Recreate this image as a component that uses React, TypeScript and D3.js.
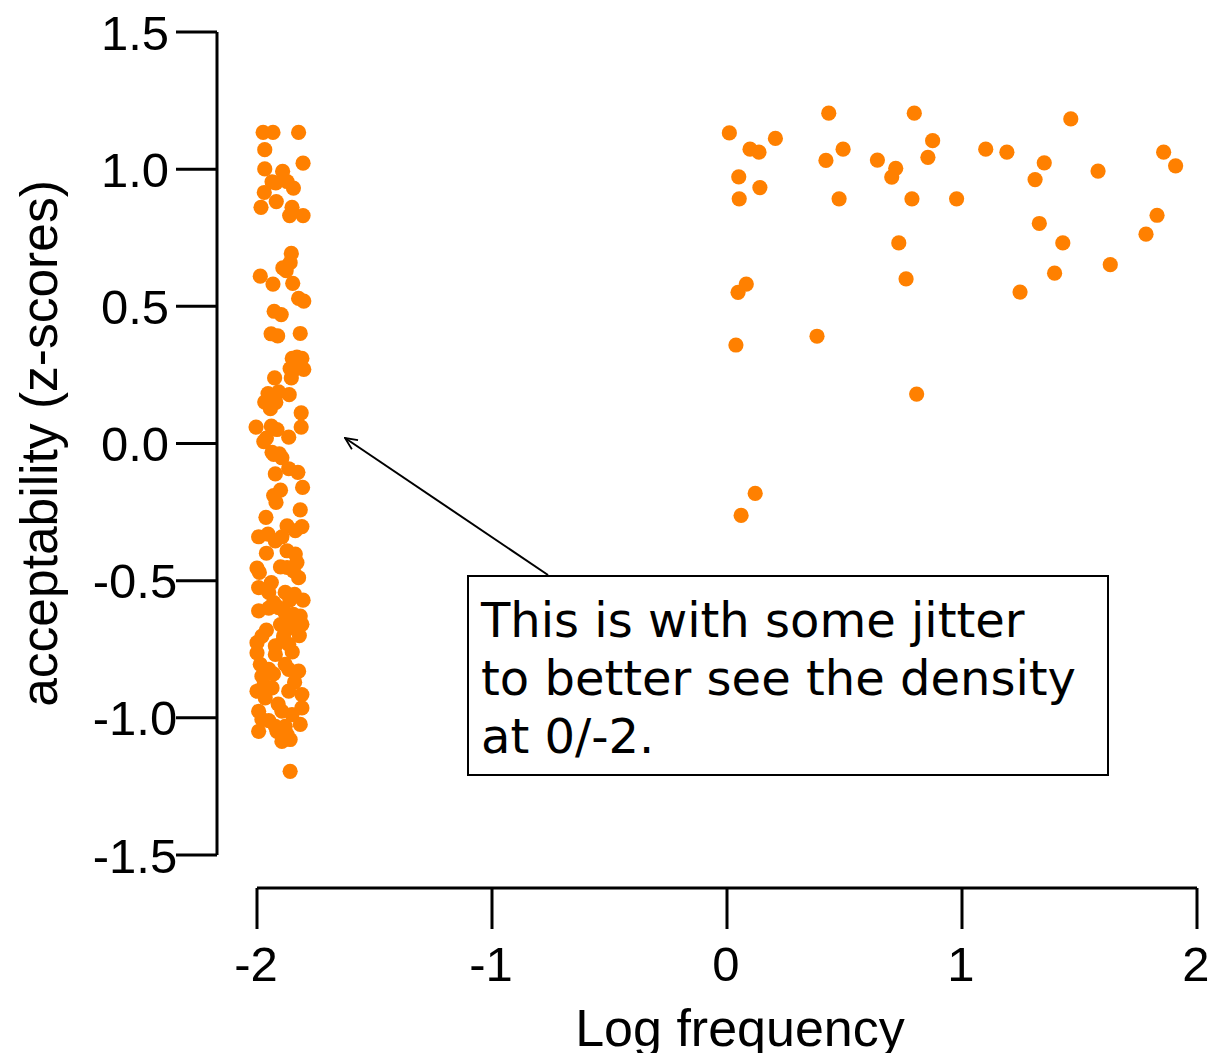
import React from "react";
import * as d3 from "d3";

// Low-frequency words (log frequency -2, jittered)
const lowX = [
  -1.974, -1.932, -1.823, -1.967, -1.804, -1.967, -1.891, -1.936, -1.872, -1.845,
  -1.969, -1.918, -1.983, -1.851, -1.861, -1.804, -1.854, -1.859, -1.876, -1.986,
  -1.932, -1.848, -1.823, -1.801, -1.927, -1.897, -1.912, -1.816, -1.830, -1.809,
  -1.801, -1.859, -1.854, -1.925, -1.953, -1.908, -1.863, -1.967, -1.943, -1.812,
  -1.812, -2.004, -1.939, -1.915, -1.971, -1.865, -1.936, -1.905, -1.929, -1.894,
  -1.922, -1.865, -1.826, -1.806, -1.929, -1.919, -1.816, -1.962, -1.872, -1.809,
  -1.837, -1.993, -1.953, -1.922, -1.894, -1.872, -1.837, -1.830, -2.000, -1.872,
  -1.845, -1.823, -1.993, -1.939, -1.950, -1.880, -1.804, -1.929, -1.908, -1.993,
  -1.880, -1.845, -1.816, -1.872, -1.809, -1.851, -1.979, -1.887, -2.000, -1.922,
  -1.865, -2.000, -1.922, -1.986, -1.880, -1.950, -1.823, -1.865, -1.979, -2.000,
  -1.936, -1.865, -1.809, -1.965, -1.993, -1.894, -1.809, -1.851, -1.979, -1.922,
  -1.816, -1.993, -1.880, -1.915, -1.872, -1.894, -1.859, -1.859,
  -1.950, -1.900, -1.960, -1.850, -1.970, -1.840, -1.910, -1.840, -1.900, -1.960,
  -1.990, -1.860, -1.890, -1.930, -1.820, -1.950, -1.960, -1.920, -1.850, -1.900,
  -1.840, -1.940, -1.920, -1.890,
];
const lowY = [
  1.134, 1.134, 1.134, 1.071, 1.022, 1.001, 0.992, 0.954, 0.955, 0.931,
  0.915, 0.882, 0.861, 0.861, 0.831, 0.831, 0.693, 0.659, 0.630, 0.610,
  0.581, 0.584, 0.529, 0.519, 0.482, 0.470, 0.392, 0.401, 0.315, 0.310,
  0.270, 0.273, 0.239, 0.239, 0.182, 0.188, 0.178, 0.151, 0.127, 0.112,
  0.060, 0.060, 0.063, 0.051, 0.007, 0.023, -0.032, -0.038, -0.040, -0.052,
  -0.111, -0.092, -0.105, -0.160, -0.190, -0.215, -0.242, -0.269, -0.300, -0.303,
  -0.318, -0.340, -0.330, -0.355, -0.340, -0.391, -0.403, -0.434, -0.454, -0.452,
  -0.464, -0.489, -0.525, -0.507, -0.543, -0.543, -0.571, -0.580, -0.598, -0.610,
  -0.617, -0.623, -0.629, -0.635, -0.659, -0.671, -0.702, -0.702, -0.726, -0.738,
  -0.732, -0.763, -0.769, -0.805, -0.805, -0.823, -0.830, -0.823, -0.848, -0.903,
  -0.891, -0.903, -0.915, -0.927, -0.976, -0.976, -0.964, -0.988, -1.006, -1.031,
  -1.024, -1.049, -1.031, -1.049, -1.061, -1.086, -1.079, -1.195,
  -0.600, -0.660, -0.680, -0.760, -0.880, -0.870, -0.950, -0.550, -0.450, -0.400,
  -0.470, -0.570, -0.720, -0.840, -0.700, -1.010, 0.020, 0.150, 0.310, -0.170,
  0.270, 0.400, 0.950, 0.640,
];

// Higher-frequency words
const highX = [
  0.010, 0.098, 0.136, 0.206, 0.050, 0.140, 0.052, 0.433, 0.494, 0.421,
  0.477, 0.640, 0.718, 0.701, 0.797, 0.875, 0.855, 0.787, 0.977, 1.463,
  1.101, 1.191, 1.350, 1.311, 1.579, 1.858, 1.909, 1.329, 1.429, 1.830,
  1.783, 1.631, 1.394, 1.247, 0.731, 0.762, 0.082, 0.047, 0.038, 0.383,
  0.807, 0.120, 0.060,
];
const highY = [
  1.132, 1.073, 1.062, 1.112, 0.972, 0.933, 0.892, 1.204, 1.073, 1.032,
  0.892, 1.033, 1.003, 0.971, 1.204, 1.104, 1.043, 0.892, 0.892, 1.183,
  1.073, 1.062, 1.023, 0.962, 0.993, 1.062, 1.012, 0.802, 0.731, 0.832,
  0.763, 0.652, 0.621, 0.552, 0.731, 0.600, 0.581, 0.551, 0.359, 0.391,
  0.180, -0.182, -0.262,
];

const yTicks = [1.5, 1.0, 0.5, 0.0, -0.5, -1.0, -1.5];
const xTicks = [-2, -1, 0, 1, 2];
const annotationLines = [
  "This is with some jitter",
  "to better see the density",
  "at 0/-2.",
];

const W = 1215;
const H = 1053;
const ORANGE = "#ff8000";
const AXIS_FONT = "Liberation Sans, Arial, sans-serif";

export default function App() {
  const x = d3.scaleLinear().domain([-2, 2]).range([257, 1197]);
  const y = d3.scaleLinear().domain([-1.5, 1.5]).range([855, 32]);
  const axisX = 217;
  const axisY = 888;

  const points = [
    ...lowX.map((v, i) => ({ x: v, y: lowY[i] })),
    ...highX.map((v, i) => ({ x: v, y: highY[i] })),
  ];

  return (
    <div style={{ position: "absolute", left: 0, top: 0 }}>
      <svg width={W} height={H} style={{ display: "block", background: "#fff" }}>
        <defs>
          <marker
            id="arrowOpen"
            viewBox="0 0 14 14"
            refX="13"
            refY="7"
            markerWidth="14"
            markerHeight="14"
            markerUnits="userSpaceOnUse"
            orient="auto"
          >
            <path d="M1,1.5 L13,7 L1,12.5" fill="none" stroke="#000" strokeWidth={1.8} />
          </marker>
        </defs>

        {/* Y axis */}
        <line x1={axisX} x2={axisX} y1={y(1.5)} y2={y(-1.5)} stroke="#000" strokeWidth={3} />
        {yTicks.map((t) => (
          <g key={"yt" + t}>
            <line x1={176} x2={axisX} y1={y(t)} y2={y(t)} stroke="#000" strokeWidth={3} />
            <text
              x={135}
              y={y(t)}
              dy="0.36em"
              textAnchor="middle"
              fontFamily={AXIS_FONT}
              fontSize={49}
              fill="#000"
            >
              {t.toFixed(1)}
            </text>
          </g>
        ))}
        <text
          transform={`translate(57,${y(0)}) rotate(-90)`}
          textAnchor="middle"
          fontFamily={AXIS_FONT}
          fontSize={51.5}
          fill="#000"
        >
          acceptability (z-scores)
        </text>

        {/* X axis */}
        <line x1={x(-2)} x2={x(2)} y1={axisY} y2={axisY} stroke="#000" strokeWidth={3} />
        {xTicks.map((t) => (
          <g key={"xt" + t}>
            <line x1={x(t)} x2={x(t)} y1={axisY} y2={929} stroke="#000" strokeWidth={3} />
            <text
              x={x(t) - 1}
              y={981}
              textAnchor="middle"
              fontFamily={AXIS_FONT}
              fontSize={49}
              fill="#000"
            >
              {String(t)}
            </text>
          </g>
        ))}
        <text
          x={740}
          y={1046}
          textAnchor="middle"
          fontFamily={AXIS_FONT}
          fontSize={52}
          fill="#000"
        >
          Log frequency
        </text>

        {/* Points */}
        {points.map((p, i) => (
          <circle key={i} cx={x(p.x)} cy={y(p.y)} r={7.6} fill={ORANGE} />
        ))}

        {/* Annotation */}
        <line
          x1={548}
          y1={575}
          x2={345}
          y2={438}
          stroke="#000"
          strokeWidth={2}
          markerEnd="url(#arrowOpen)"
        />
        <rect x={468} y={576} width={640} height={199} fill="#fff" stroke="#000" strokeWidth={2} />
        {annotationLines.map((line, i) => (
          <text
            key={"a" + i}
            x={481}
            y={637 + i * 58}
            fontFamily="DejaVu Sans, Verdana, sans-serif"
            fontSize={48}
            fill="#000"
          >
            {line}
          </text>
        ))}
      </svg>
    </div>
  );
}
